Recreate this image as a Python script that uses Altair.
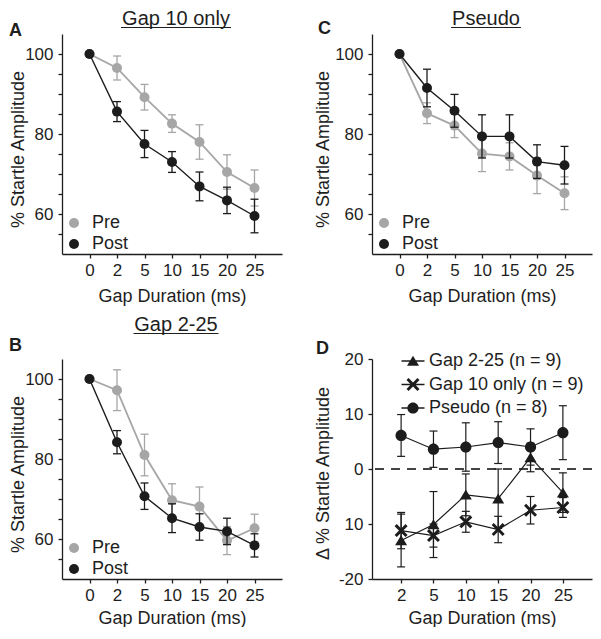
import altair as alt
import pandas as pd

# ---------------- data ----------------
gaps = ["0", "2", "5", "10", "15", "20", "25"]

gap10_pre = [100, 96.5, 89.2, 82.6, 78.0, 70.5, 66.5]
gap10_pre_err = [0, 3.0, 3.2, 2.2, 4.3, 4.3, 4.5]
gap10_post = [100, 85.6, 77.5, 73.0, 66.9, 63.4, 59.5]
gap10_post_err = [0, 2.5, 3.4, 2.6, 3.6, 3.3, 4.2]

gap225_pre = [100, 97.2, 81.0, 69.7, 68.1, 59.6, 62.7]
gap225_pre_err = [0, 5.1, 5.2, 4.1, 4.9, 3.5, 3.5]
gap225_post = [100, 84.2, 70.7, 65.2, 63.0, 61.9, 58.4]
gap225_post_err = [0, 2.9, 3.3, 3.6, 3.3, 3.3, 2.9]

pseudo_pre = [100, 85.2, 82.1, 75.1, 74.4, 69.6, 65.2]
pseudo_pre_err = [0, 2.6, 3.0, 4.5, 3.4, 4.5, 4.1]
pseudo_post = [100, 91.5, 85.8, 79.4, 79.4, 73.1, 72.2]
pseudo_post_err = [0, 4.7, 4.1, 5.4, 5.4, 4.2, 4.7]

delta_gaps = ["2", "5", "10", "15", "20", "25"]
delta_series = ["Gap 2-25 (n = 9)", "Gap 10 only (n = 9)", "Pseudo (n = 8)"]
delta_gap225 = [-13.0, -10.1, -4.7, -5.4, 2.1, -4.3]
delta_gap225_err = [4.8, 6.0, 3.8, 5.4, 2.6, 3.6]
delta_gap10 = [-11.2, -12.1, -9.6, -11.0, -7.5, -7.0]
delta_gap10_err = [3.3, 2.1, 1.9, 2.4, 2.5, 1.8]
delta_pseudo = [6.1, 3.6, 4.0, 4.8, 4.0, 6.6]
delta_pseudo_err = [3.8, 3.3, 4.4, 3.8, 3.3, 4.9]

# ---------------- styling ----------------
FONT = "Liberation Sans, Arial, Helvetica, sans-serif"
GRAY = "#a6a6a6"
BLACK = "#1c1c1c"
TXT = "#1e1e1e"
W, H = 220, 220

# custom symbol paths (unit = sqrt(size)/2 px)
TRI = "M0,-1.05L1.2,0.95L-1.2,0.95Z"
CIRC = "M1.12,0A1.12,1.12 0 1,1 -1.12,0A1.12,1.12 0 1,1 1.12,0Z"
XMK = ("M0,-0.42L0.88,-1.3L1.3,-0.88L0.42,0L1.3,0.88L0.88,1.3L0,0.42"
       "L-0.88,1.3L-1.3,0.88L-0.42,0L-1.3,-0.88L-0.88,-1.3Z")
LINE = "M-2.3,-0.15L2.3,-0.15L2.3,0.15L-2.3,0.15Z"


def decorations(title, title_w, title_y, letter, letter_x, letter_y):
    out = []
    cx = W / 2 + 4
    if title:
        out.append(alt.Chart(pd.DataFrame({"t": [title]})).mark_text(
            font=FONT, fontSize=20, align="center", baseline="alphabetic", color=TXT
        ).encode(text="t:N", x=alt.value(cx), y=alt.value(title_y)))
        out.append(alt.Chart(pd.DataFrame({"t": [title]})).mark_rule(
            color=TXT, strokeWidth=1.2
        ).encode(x=alt.value(cx - title_w / 2), x2=alt.value(cx + title_w / 2),
                 y=alt.value(title_y + 2.5)))
    out.append(alt.Chart(pd.DataFrame({"t": [letter]})).mark_text(
        font=FONT, fontSize=18, fontWeight="bold", align="left",
        baseline="alphabetic", color=TXT
    ).encode(text="t:N", x=alt.value(letter_x), y=alt.value(letter_y)))
    return out


def pair_panel(title, title_w, title_y, letter, letter_x, letter_y,
               ytitle_x, xtitle_y, pre, pre_err, post, post_err):
    rows = []
    for grp, vals, errs in (("Pre", pre, pre_err), ("Post", post, post_err)):
        for g, v, e in zip(gaps, vals, errs):
            rows.append({"gap": g, "group": grp, "value": v, "err": e,
                         "lo": v - e, "hi": v + e})
    df = pd.DataFrame(rows)

    xaxis = alt.Axis(title="Gap Duration (ms)", labelAngle=0, labelPadding=4,
                     titleX=W / 2, titleY=xtitle_y, titleBaseline="alphabetic")
    yaxis = alt.Axis(title="% Startle Amplitude", values=list(range(55, 101, 5)),
                     labelExpr="datum.value % 20 == 0 ? datum.label : ''",
                     labelOverlap=False, labelPadding=5,
                     titleX=ytitle_x, titleY=H / 2 + 5, titleBaseline="middle")
    xs = alt.Scale(type="point", padding=1.0)
    ys = alt.Scale(domain=[50, 105], nice=False, zero=False)
    cs = alt.Scale(domain=["Pre", "Post"], range=[GRAY, BLACK])
    leg = alt.Legend(title=None, orient="none", legendX=3, legendY=H - 40,
                     labelFont=FONT, labelFontSize=18, labelColor=TXT,
                     symbolType="circle", symbolSize=100, labelOffset=9,
                     rowPadding=3, padding=0, symbolStrokeWidth=0, symbolOpacity=1)

    def X():
        return alt.X("gap:N", sort=gaps, scale=xs, axis=xaxis)

    def Y(f):
        return alt.Y(f + ":Q", scale=ys, axis=yaxis)

    layers = []
    for grp, colr, lw in (("Pre", GRAY, 1.8), ("Post", BLACK, 1.4)):
        base = alt.Chart(df).transform_filter(alt.datum.group == grp)
        eb = base.transform_filter(alt.datum.err > 0)
        layers.append(eb.mark_rule(strokeWidth=1.3, color=colr).encode(x=X(), y=Y("lo"), y2="hi:Q"))
        layers.append(eb.mark_tick(orient="horizontal", size=8, thickness=1.3, opacity=1, color=colr)
                      .encode(x=X(), y=Y("lo")))
        layers.append(eb.mark_tick(orient="horizontal", size=8, thickness=1.3, opacity=1, color=colr)
                      .encode(x=X(), y=Y("hi")))
        layers.append(base.mark_line(strokeWidth=lw, color=colr).encode(x=X(), y=Y("value")))
        layers.append(base.mark_point(filled=True, size=100, opacity=1).encode(
            x=X(), y=Y("value"), color=alt.Color("group:N", scale=cs, legend=leg)))
    layers += decorations(title, title_w, title_y, letter, letter_x, letter_y)
    return alt.layer(*layers).properties(width=W, height=H)


def delta_panel():
    rows = []
    for s, vals, errs in ((delta_series[0], delta_gap225, delta_gap225_err),
                          (delta_series[1], delta_gap10, delta_gap10_err),
                          (delta_series[2], delta_pseudo, delta_pseudo_err)):
        for g, v, e in zip(delta_gaps, vals, errs):
            rows.append({"gap": g, "series": s, "value": v, "err": e,
                         "lo": v - e, "hi": v + e})
    df = pd.DataFrame(rows)

    xaxis = alt.Axis(title="Gap Duration (ms)", labelAngle=0, labelPadding=4,
                     titleX=W / 2, titleY=44, titleBaseline="alphabetic")
    yaxis = alt.Axis(title="\u0394 % Startle Amplitude", values=list(range(-20, 21, 5)),
                     labelExpr=("datum.value == 20 ? '20' : datum.value == 10 ? '10' : "
                                "datum.value == 0 ? '0' : datum.value == -10 ? '10' : "
                                "datum.value == -20 ? '-20' : ''"),
                     labelOverlap=False, labelPadding=5,
                     titleX=-49, titleY=H / 2 + 4, titleBaseline="middle")
    xs = alt.Scale(type="point", padding=0.9)
    ys = alt.Scale(domain=[-20, 20], nice=False, zero=False)

    def X():
        return alt.X("gap:N", sort=delta_gaps, scale=xs, axis=xaxis)

    def Y(f):
        return alt.Y(f + ":Q", scale=ys, axis=yaxis)

    layers = [alt.Chart(df).mark_rule(strokeDash=[9, 7], strokeWidth=1.4, color="#444444")
              .encode(y=alt.datum(0))]
    for s, shp in zip(delta_series, [TRI, XMK, CIRC]):
        base = alt.Chart(df).transform_filter(alt.datum.series == s)
        layers.append(base.mark_rule(strokeWidth=1.2, color=BLACK).encode(x=X(), y=Y("lo"), y2="hi:Q"))
        layers.append(base.mark_tick(orient="horizontal", size=8, thickness=1.2, color=BLACK, opacity=1)
                      .encode(x=X(), y=Y("lo")))
        layers.append(base.mark_tick(orient="horizontal", size=8, thickness=1.2, color=BLACK, opacity=1)
                      .encode(x=X(), y=Y("hi")))
        layers.append(base.mark_line(strokeWidth=1.2, color=BLACK).encode(x=X(), y=Y("value")))
        layers.append(base.mark_point(filled=True, size=100, opacity=1, color=BLACK, shape=shp, strokeWidth=0)
                      .encode(x=X(), y=Y("value")))
    leg_paths = [TRI + LINE, XMK + LINE, CIRC + LINE]
    leg = alt.Legend(title=None, orient="none", legendX=32, legendY=-7,
                     labelFont=FONT, labelFontSize=18, labelColor=TXT,
                     symbolSize=100, labelOffset=7, rowPadding=5.5, padding=0,
                     symbolFillColor=BLACK, symbolStrokeColor=BLACK,
                     symbolStrokeWidth=0.01, symbolOpacity=1)
    layers.append(alt.Chart(df).transform_filter("false").mark_point(
        filled=True, size=100, opacity=1, color=BLACK).encode(
        x=X(), y=Y("value"),
        shape=alt.Shape("series:N", scale=alt.Scale(domain=delta_series, range=leg_paths), legend=leg)))
    layers += decorations("", 0, -28, "D", -56, -5)
    return alt.layer(*layers).properties(width=W, height=H)


panel_a = pair_panel("Gap 10 only", 110, -9, "A", -53, 2, -44, 47,
                     gap10_pre, gap10_pre_err, gap10_post, gap10_post_err)
panel_c = pair_panel("Pseudo", 70, -9, "C", -54, 0, -49, 47,
                     pseudo_pre, pseudo_pre_err, pseudo_post, pseudo_post_err)
panel_b = pair_panel("Gap 2-25", 85, -28, "B", -53, -8, -44, 44,
                     gap225_pre, gap225_pre_err, gap225_post, gap225_post_err)
panel_d = delta_panel()

chart = alt.concat(
    panel_a, panel_c, panel_b, panel_d, columns=2,
    spacing={"row": 105, "column": 90}, bounds="flush"
).resolve_scale(
    color="independent", shape="independent"
).resolve_legend(
    color="independent", shape="independent"
).properties(
    padding={"left": 0, "top": 1, "right": 0, "bottom": 0}
).configure(font=FONT).configure_view(stroke=None).configure_axis(
    grid=False, domainColor=TXT, domainWidth=1.3, tickColor=TXT, tickWidth=1.3,
    tickSize=4, labelFont=FONT, labelFontSize=17, labelColor=TXT,
    titleFont=FONT, titleFontSize=18, titleFontWeight="normal", titleColor=TXT
)

chart.save("out.html", embed_options={"renderer": "svg", "actions": False})
